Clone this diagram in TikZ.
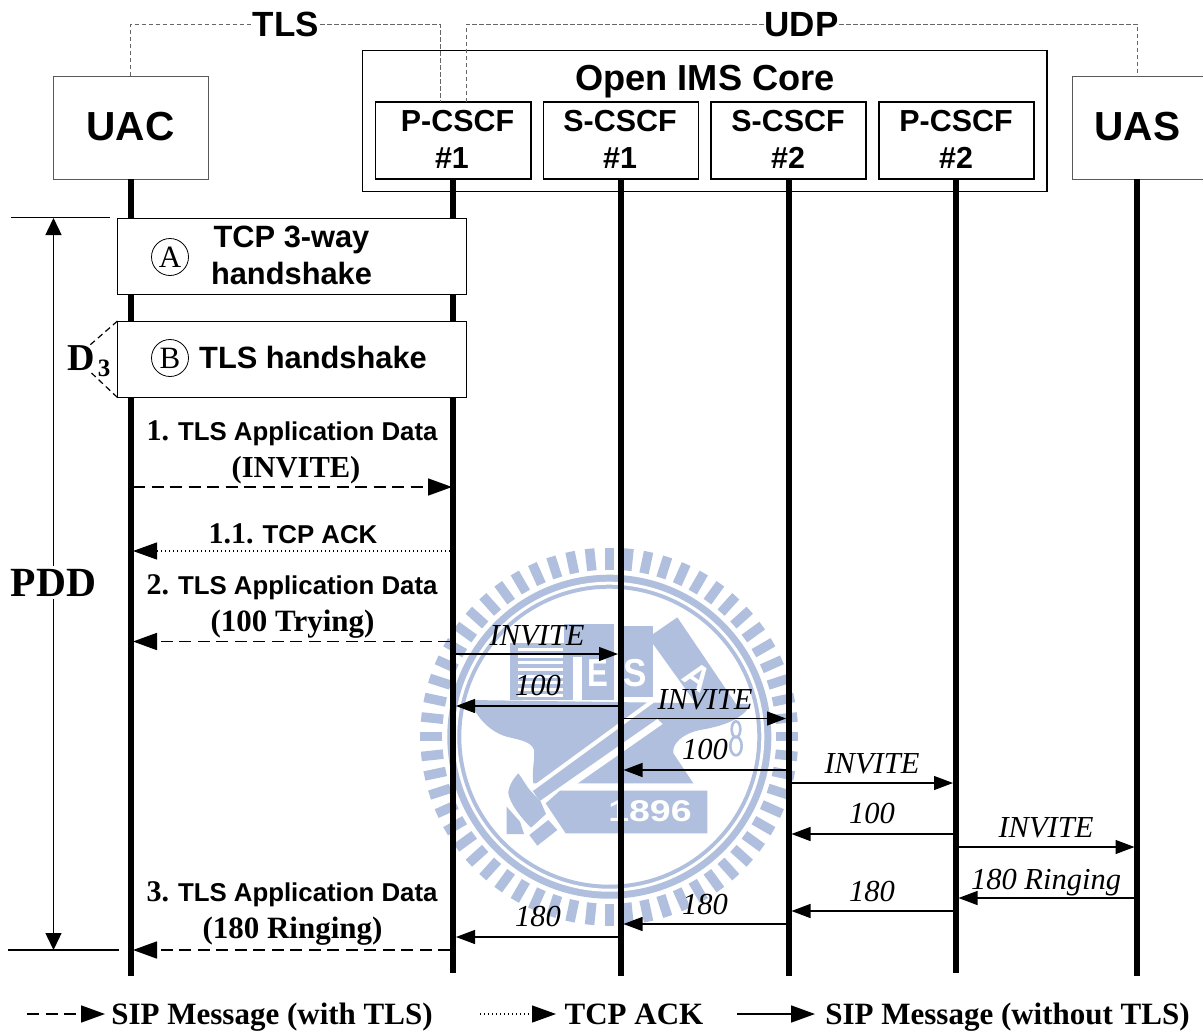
\documentclass[tikz,border=0pt]{standalone}
\usepackage{fontspec}
\setmainfont{Liberation Serif}
\setsansfont{Liberation Sans}
\usetikzlibrary{arrows.meta}
\definecolor{wm}{HTML}{AFBFDD}
\newcommand{\fz}[1]{\fontsize{#1}{#1}\selectfont}
\tikzset{
  every node/.style={inner sep=0pt,outer sep=0pt},
  hb/.style={font=\sffamily\bfseries\fz{#1},anchor=base},
  tb/.style={font=\bfseries\fz{#1},anchor=base},
  ti/.style={font=\itshape\fz{30.5},anchor=base},
  thinbox/.style={draw=black!65,line width=0.9pt,fill=white},
  blackbox/.style={draw=black,line width=1.7pt,fill=white},
  hsbox/.style={draw=black,line width=1pt,fill=white},
  mark circ/.style={draw=black,line width=0.8pt,circle,minimum size=37pt,font=\fz{31}},
  lifeline/.style={line width=5.6pt},
  sipmsg/.style={-{Triangle[length=19pt,width=14pt]},line width=1.2pt},
  bigtip/.style={-{Triangle[length=24pt,width=17pt]}},
  tlsmsg/.style={bigtip,line width=1.7pt,dash pattern=on 12pt off 6.5pt},
  ackmsg/.style={bigtip,line width=1.2pt,dash pattern=on 1.2pt off 2.8pt},
  link/.style={draw=black!60,line width=1pt,dash pattern=on 4.5pt off 2.5pt},
  bar/.style={line width=1.4pt},
}
\begin{document}
\begin{tikzpicture}[x=1pt,y=-1pt]
\useasboundingbox (0,0) rectangle (1203,1031);
\fill[white] (0,0) rectangle (1203,1031);

% ---------- watermark seal ----------
\begin{scope}[shift={(609.3,736.7)}]
  \foreach \a in {0,6,...,354}
    \draw[wm,line width=9.5pt] (\a+90:167pt) -- (\a+90:189pt);
  \fill[wm,even odd rule] (0,0) circle (162pt) (0,0) circle (148pt);
  \draw[white,line width=3pt] (0,0) circle (153.5pt);
\end{scope}
\begin{scope}[shift={(400,530)},x=0.33333pt,y=-0.33333pt]
  % book
  \fill[wm] (330,340) rectangle (492,510);
  \foreach \yy in {358,378,398,418,438,458,478,495}
    \draw[white,line width=3pt] (355,\yy) -- (490,\yy);
  % pillars
  \fill[wm] (492,282) rectangle (642,510);
  \fill[white] (520,380) rectangle (545,510);
  \fill[wm] (670,288) rectangle (758,500);
  \node[font=\sffamily\bfseries\fz{39},white] at (595,428) {\scalebox{0.8}[1]{E}};
  \node[font=\sffamily\bfseries\fz{39},white] at (706,428) {\scalebox{0.9}[1]{S}};
  % blade
  \fill[wm] (745,322) -- (832,262) -- (1010,525) -- (905,545) -- cycle;
  \node[font=\sffamily\bfseries\fz{35},white,rotate=-35] at (893,440) {A};
  % anvil
  \fill[wm] (210,510) -- (1052,522) .. controls (1030,570) and (960,590) .. (900,600)
     .. controls (850,610) and (815,640) .. (820,670) -- (880,760) -- (530,760) -- (400,760)
     .. controls (395,720) and (405,690) .. (402,660) .. controls (395,635) and (360,630) .. (320,620)
     .. controls (270,605) and (230,565) .. (210,510) -- cycle;
  % handle and the two white stripes beside it
  \fill[wm] (395,778) -- (760,512) -- (775,570) -- (420,815) -- cycle;
  \draw[white,line width=4pt] (395,778) -- (762,510);
  \fill[white] (420,813) -- (772,567) -- (788,582) -- (530,762) -- (480,785) -- (437,822) -- cycle;
  % hammer head
  \fill[wm] (355,730) .. controls (370,750) and (380,770) .. (392,783) -- (422,815) -- (438,852) -- (393,893)
     .. controls (360,860) and (330,820) .. (325,790) .. controls (325,770) and (340,745) .. (355,730) -- cycle;
  \fill[wm] (320,830) -- (360,875) -- (372,912) -- (320,912) -- cycle;
  \fill[wm] (388,915) -- (445,870) -- (472,900) -- (412,947) -- cycle;
  % 1896 banner
  \fill[wm] (480,782) -- (922,782) -- (922,910) -- (497,910) -- (437,820) -- cycle;
  \node[font=\sffamily\bfseries\fz{30},white] at (750,845) {\scalebox{1.25}[1]{1896}};
  % small 8
  \draw[wm,line width=2.6pt] (1008,598) ellipse (13 and 24);
  \draw[wm,line width=2.6pt] (1008,648) ellipse (17 and 28);
\end{scope}

% ---------- top boxes ----------
\node[thinbox,minimum width=155pt,minimum height=103pt,text depth=3pt,font=\sffamily\bfseries\fz{40.6}] (uac) at (130.5,127.5) {UAC};
\node[thinbox,minimum width=131pt,minimum height=103pt,text depth=3pt,font=\sffamily\bfseries\fz{40.6}] (uas) at (1137.5,127.5) {UAS};
\node[blackbox,minimum width=684.5pt,minimum height=141pt] (ims) at (704.75,121) {};
\node[blackbox,minimum width=155.5pt,minimum height=77pt] (p1) at (453.25,140.5) {};
\node[blackbox,minimum width=155pt,minimum height=77pt] (s1) at (621,140.5) {};
\node[blackbox,minimum width=155pt,minimum height=77pt] (s2) at (788.5,140.5) {};
\node[blackbox,minimum width=155pt,minimum height=77pt] (p2) at (956.5,140.5) {};
\node[hb=36.2] (imst) at (705,90.5) {Open IMS Core};
\node[hb=30.4] (p1a) at (457.5,131) {P-CSCF};
\node[hb=30.4] (p1b) at (452,168) {\#1};
\node[hb=30.4] (s1a) at (620,131) {S-CSCF};
\node[hb=30.4] (s1b) at (620,168) {\#1};
\node[hb=30.4] (s2a) at (788,131) {S-CSCF};
\node[hb=30.4] (s2b) at (788,168) {\#2};
\node[hb=30.4] (p2a) at (956,131) {P-CSCF};
\node[hb=30.4] (p2b) at (956,168) {\#2};

% ---------- lifelines ----------
\coordinate (xA) at (131,975.5);
\coordinate (xB) at (453,973);
\coordinate (xC) at (620.7,975.5);
\coordinate (xD) at (788.7,975.5);
\coordinate (xE) at (956,973);
\coordinate (xF) at (1137,975.5);
\draw[lifeline] (xA |- uac.south) -- (xA);
\draw[lifeline] (xB |- p1.south) -- (xB);
\draw[lifeline] (xC |- s1.south) -- (xC);
\draw[lifeline] (xD |- s2.south) -- (xD);
\draw[lifeline] (xE |- p2.south) -- (xE);
\draw[lifeline] (xF |- uas.south) -- (xF);

% ---------- TLS / UDP links ----------
\coordinate (tlsE) at (440,102);
\coordinate (udpS) at (466,102);
\node[hb=35,fill=white,inner xsep=1pt] (tls) at (286,36) {TLS};
\node[hb=35,fill=white,inner xsep=1pt] (udp) at (801.5,36) {UDP};
\draw[link] (uac.north -| 130.5,0) |- (tls.west |- 0,24);
\draw[link] (tls.east |- 0,24) -| (tlsE);
\draw[link] (udpS) |- (udp.west |- 0,24);
\draw[link] (udp.east |- 0,24) -| (uas.north);

% ---------- handshake boxes ----------
\node[hsbox,minimum width=348.5pt,minimum height=76.5pt] (hsA) at (291.75,256.25) {};
\node[hsbox,minimum width=348.5pt,minimum height=76.5pt] (hsB) at (291.75,359.25) {};
\node[mark circ] (cA) at (170,257) {A};
\node[mark circ] (cB) at (170,358) {B};
\node[hb=30.8] (hsA1) at (291.5,247.5) {TCP 3-way};
\node[hb=30.8] (hsA2) at (291.5,284) {handshake};
\node[hb=30.8] (hsB1) at (313,368) {TLS handshake};

% ---------- PDD / D3 ----------
\coordinate (pt1) at (11,217.5);
\coordinate (pt2) at (110,217.5);
\coordinate (pb1) at (8,950);
\coordinate (pb2) at (119,950);
\draw[bar] (pt1) -- (pt2);
\draw[bar] (pb1) -- (pb2);
\coordinate (pa1) at (53.5,218);
\coordinate (pa2) at (53.5,950);
\draw[line width=1.4pt,{Triangle[length=17pt,width=16pt]}-{Triangle[length=17pt,width=16pt]}] (pa1) -- (pa2);
\node[tb=41.5,fill=white,inner ysep=3pt] (pdd) at (53.5,596) {PDD};
\coordinate (d1) at (90,345);
\coordinate (d2) at (91.5,373);
\draw[line width=1.2pt,dash pattern=on 6pt off 4pt] (hsB.north west) -- (d1);
\draw[line width=1.2pt,dash pattern=on 6pt off 4pt] (hsB.south west) -- (d2);
\node[tb=38] (d3) at (81,370.7) {D};
\node[tb=25] (d3s) at (104,376.7) {3};

% ---------- TLS-level messages ----------
\coordinate (m1a) at (133,487);   \coordinate (m1b) at (452,487);
\coordinate (m2a) at (450,551);   \coordinate (m2b) at (133,551);
\coordinate (m3a) at (450,641.5); \coordinate (m3b) at (133,641.5);
\coordinate (m4a) at (450,950);   \coordinate (m4b) at (133,950);
\draw[tlsmsg] (m1a) -- (m1b);
\draw[ackmsg] (m2a) -- (m2b);
\draw[tlsmsg] (m3a) -- (m3b);
\draw[tlsmsg] (m4a) -- (m4b);

\node[font=\fz{30},anchor=base] (l1a) at (292,440) {\bfseries 1.\hspace{-1pt} {\sffamily\fz{25.8}TLS Application Data}};
\node[tb=30.5] (l1b) at (296,477) {(INVITE)};
\node[font=\fz{30},anchor=base] (l2) at (293,543) {\bfseries 1.1.\hspace{-1pt} {\sffamily\fz{25.8}TCP ACK}};
\node[font=\fz{30},anchor=base] (l3a) at (292,594) {\bfseries 2.\hspace{-1pt} {\sffamily\fz{25.8}TLS Application Data}};
\node[tb=31] (l3b) at (292.5,631) {(100 Trying)};
\node[font=\fz{30},anchor=base] (l4a) at (292,901) {\bfseries 3.\hspace{-1pt} {\sffamily\fz{25.8}TLS Application Data}};
\node[tb=31] (l4b) at (292.5,938) {(180 Ringing)};

% ---------- SIP messages over UDP ----------
\coordinate (a1) at (456,654);    \coordinate (b1) at (618,654);
\coordinate (a2) at (618,706);    \coordinate (b2) at (456,706);
\coordinate (a3) at (623,718.5);  \coordinate (b3) at (786,718.5);
\coordinate (a4) at (786,770);    \coordinate (b4) at (623.5,770);
\coordinate (a5) at (791,783);    \coordinate (b5) at (953,783);
\coordinate (a6) at (953,834);    \coordinate (b6) at (791.5,834);
\coordinate (a7) at (958,847);    \coordinate (b7) at (1134.5,847);
\coordinate (a8) at (1134.5,898); \coordinate (b8) at (958.5,898);
\coordinate (a9) at (953,911);    \coordinate (b9) at (791.5,911);
\coordinate (a10) at (786,924);   \coordinate (b10) at (623.5,924);
\coordinate (a11) at (618,937);   \coordinate (b11) at (456,937);
\foreach \i in {1,...,11} \draw[sipmsg] (a\i) -- (b\i);

\node[ti] (t1) at (537,645) {INVITE};
\node[ti] (t2) at (538,695) {100};
\node[ti] (t3) at (705,709) {INVITE};
\node[ti] (t4) at (705,759) {100};
\node[ti] (t5) at (872,773) {INVITE};
\node[ti] (t6) at (872,823) {100};
\node[ti] (t7) at (1046,837) {INVITE};
\node[ti] (t8) at (1046,889) {180 Ringing};
\node[ti] (t9) at (872,901) {180};
\node[ti] (t10) at (705,914) {180};
\node[ti] (t11) at (538,926) {180};

% ---------- legend ----------
\coordinate (k1a) at (27,1014);  \coordinate (k1b) at (105,1014);
\coordinate (k2a) at (480,1014); \coordinate (k2b) at (556,1014);
\coordinate (k3a) at (737,1014); \coordinate (k3b) at (815,1014);
\draw[tlsmsg] (k1a) -- (k1b);
\draw[ackmsg] (k2a) -- (k2b);
\draw[bigtip,line width=1.7pt] (k3a) -- (k3b);
\node[tb=31] (k1) at (272,1024) {SIP Message (with TLS)};
\node[tb=31] (k2) at (634,1024) {TCP ACK};
\node[tb=31] (k3) at (1007.5,1024) {SIP Message (without TLS)};
\end{tikzpicture}
\end{document}
